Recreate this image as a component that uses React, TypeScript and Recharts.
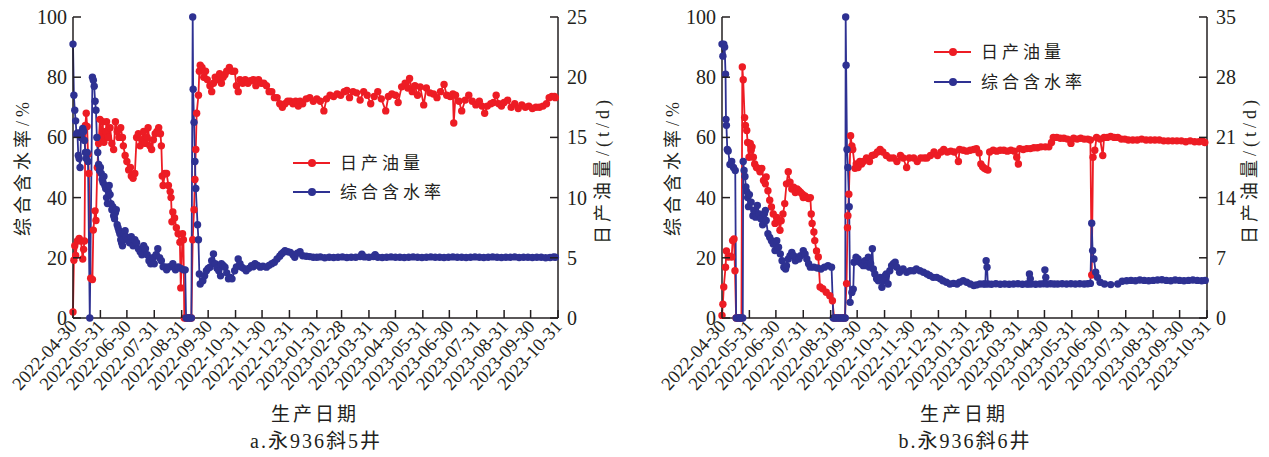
import { ComposedChart, Line, XAxis, YAxis } from "recharts";

// month-end ticks, as day offsets from 2022-04-30
const tickDays = [0, 31, 61, 92, 123, 153, 184, 214, 245, 276, 304, 335, 365, 396, 426, 457, 488, 518, 549];
const tickLabels = [
  "2022-04-30", "2022-05-31", "2022-06-30", "2022-07-31", "2022-08-31", "2022-09-30", "2022-10-31",
  "2022-11-30", "2022-12-31", "2023-01-31", "2023-02-28", "2023-03-31", "2023-04-30", "2023-05-31",
  "2023-06-30", "2023-07-31", "2023-08-31", "2023-09-30", "2023-10-31",
];

// a. 永936斜5井
const waterDaysA = [0,1,2,3,4,5,6,7,8,9,10,11,12,13,14,15,16,17,19,22,23,24,25,26,27,28,29,30,31,32,33,34,35,36,37,38,39,40,41,42,43,44,45,46,47,48,49,50,51,52,53,54,55,56,57,58,59,60,62,64,66,68,70,72,74,76,78,80,82,84,86,88,90,92,94,96,98,100,102,104,106,108,110,113,116,119,122,125,127,128,130,132,134,135.5,136,137,138,139,141,142,143,144,147,149,151,153,155,157,159,161,163,165,167,168,170,172,174,176,178,180,183,185,187,189,191,193,196,199,202,204,206,209,212,215,219,222,225,228,231,234,236,238,240,243,246,249,251,254,257,260,264,268,272,276,280,285,290,295,300,305,310,315,320,325,327,330,335,340,342,345,350,355,360,365,370,375,380,385,390,395,400,405,410,415,420,425,430,435,440,445,450,455,460,465,470,475,480,485,490,495,500,505,510,515,520,525,530,535,540,544,546];
const waterA = [91,74,69,65.5,61,61.5,54,53,50,60,62,63,62,59,55,53,55,52,0,80,79,77,72,69,60,55,51,49,50,48,46,45,47,44,43,40,38,42,44,41,38,36,37,34,33,35,36,31,30,29,28,26,25,24,26,28,29,27,26,25,27,24,26,25,23,22,21,24,23,21,19,18,20,18,21,23,20,19,17,17,16,17,17,18,16,17,16.5,16,16,0,0,0,0,100,76,65,52,43,31,26,14.6,11.3,12.4,14,15.7,16.5,16.9,19,21.3,18,16.5,15.7,14,18,17.5,16.9,15,13,13.5,13,15.7,17,19.6,18,16.9,16.5,15.7,16.5,17.4,17,18,17.5,16.9,17.2,16.9,17.5,18,18.5,19.6,20.5,21.3,21.8,22.4,22,21.8,21,20.2,21.5,22,20.7,20.5,20.4,20.2,20.2,20.3,20,20.2,20.1,20.2,20.3,20.1,20.2,20.2,20.4,21.2,20.3,20.2,20.4,21,20.2,20.1,20.2,20.3,20.2,20.2,20.1,20.2,20.3,20.2,20.1,20.2,20.3,20.2,20.2,20.1,20.2,20.3,20.2,20.2,20.1,20.2,20.3,20.2,20.1,20.2,20.3,20.2,20.1,20.2,20.2,20.3,20.1,20.2,20.2,20.1,20.2,20.2,20,20.1,20.3,20.2];
const oilDaysA = [0,1,2,3,5,7,9,11,12,13,14,15,16,17,18,20,22,23,25,26,27.5,29,30.5,32,33.5,35,37,38,40,42,44,46,48,50,52,54,56,57,59,61,63,65,66,68,70,72,74,76,78,80,82,84,85,87,89,91,93,95,97,99,100,101,102,104,106,108,110,111,112,113,115,117,119,121,122,124,125,126,128,130,132,134,135.5,137,138,139,140,142,143,144,146,148,150,152,155,157,159,161,163,166,168,170,172,174,177,180,183,185,187,189,192,195,198,201,204,207,210,213,216,219,222,225,228,231,234,237,240,243,246,249,252,255,257,260,264,268,272,276,280,284,287,291,295,299,303,307,310,313,317,321,325,329,333,337,341,345,349,354,357,361,365,368,372,376,379,381,384,387,390,393,397,400,404,408,412,416,420,423,427,430,431,433,437,440,444,448,452,456,460,463,466,469,473,476,479,482,485,488,492,496,500,504,508,512,516,520,524,528,532,536,539,542,545,546];
const oilA = [0.5,4.8,6,5.2,6.4,6.6,6.4,4.9,5.7,6.4,16,17,15.9,13.6,12,3.3,3.2,7.3,8.9,8.1,12.5,14.5,16.5,15,16.3,14.6,15.5,16.3,15,15.8,14.5,14,16.3,15.5,15,15.8,15,14.3,13.5,13,12.3,12.5,11.8,11.6,12,15,15.3,14.3,14.8,15.5,14.5,15,15.8,14.3,14,14.8,15.3,15.5,15.8,15.3,14.3,11.8,11,12,12,11,10.5,10,8,8.8,8.3,7.5,7,6.3,2.5,7,6.5,0,0,0,0,0,6.5,9,11.5,14,17,18.5,20.5,21,20.8,20,20.5,19.8,19.3,18.8,19.5,20,19.8,20.3,19.5,20,20.2,20.5,20.8,20.5,20.5,19.3,18.8,19.8,19.5,19.8,19.5,19.7,19.8,19.3,19.8,19.5,19.5,19.3,18.8,18.8,18.3,18.3,17.8,17.5,17.8,18,18,17.8,18,17.6,18,17.8,18.2,18.3,18,18.2,18,17.2,18.2,18.5,18.4,18.6,18.5,18.8,18.9,18.3,18.8,18.7,18.1,18.8,18.5,17.8,18.4,18.8,18.2,17.2,18.4,18.6,18.5,17.9,19.2,19.5,19.1,19.9,18.8,19.3,18.5,19.2,17.7,19.1,18.7,18.6,18.3,18.8,19.4,18.5,18.4,18.6,16.2,18.5,18,17.2,18.1,18.5,18,17.7,18,17.6,17,17.6,17.8,17.9,18.5,17.8,17.6,17.9,18.1,17.5,17.8,17.4,17.7,17.5,17.6,17.4,17.5,17.5,17.6,17.8,18.3,18.4,18.4,18.3];

// b. 永936斜6井
const waterDaysB = [0,1,2,3,4,4.5,5,6,7,9,11,13,15,16,18,20,22,23.5,24,25,26,27,28,29,30,31,33,35,36,38,40,42,44,46,48,49,50,52,54,56,58,60,62,64,66,68,70,72,73,75,77,79,81,83,85,87,89,92,94,96,98,100,104,108,112,116,120,124,126,128,130,132,134,136,138,139.5,140,140.5,141.5,142.5,144,145,147,148.6,149.4,151.7,154,156,158,160,162,164,165.6,167,168.3,170.2,171.3,173,175,177,179,181,183,185,186,188,190,192,194,196,198,201,205,209,213,217,220,224,228,232,235,239,243,247,250,254,258,262,266,269,273,277,281,285,288,292,296,298,299,300,301,305,310,315,320,325,330,335,340,345,347,348,349,350,355,360,364,365.5,366.5,368,372,376,380,385,390,395,400,405,410,414,417,418.5,419.5,421,423,425,428,433,440,448,453,458,463,468,473,478,483,488,493,498,503,508,513,518,523,528,533,538,543,547];
const waterB = [91,87,91,90,81,66,64,56,55.5,51,52,50,49,0,0,0,0,0,52,49,47,43.5,42,40,37,41,38.5,34,35.7,33.5,37.4,34.6,33,31,34.6,35.7,32.4,28,26.8,25.7,24.6,22.4,25.7,23.5,21.3,19,16.9,16.3,17.4,19.6,20.7,21.8,20.7,19,20.2,19.6,20.7,22.4,21.3,19.6,18,16.9,16.9,16.6,16.3,16.9,17.4,16.9,0,0,0,0,0,0,0,0,100,84,56,50,37,5.2,8.5,9.6,18.5,20.2,19.6,18.5,18,17.4,19,17.4,20.2,16.9,18,23,16.3,14.6,13,12.4,13.5,10.2,12.4,14.1,14.6,11.3,15.7,17.4,18,18.5,16.9,15.2,16.3,15.2,15.7,15.7,16.3,15.7,15.2,14.6,14.1,13.5,13.5,13,12.4,11.9,11.3,11.5,11.3,11.9,12.4,11.9,11.3,10.8,11,11.3,11.3,11.3,19,16.9,11.3,11.2,11.4,11.2,11.3,11.2,11.3,11.4,11.2,11.3,11.3,14.6,13,11.3,11.2,11.3,11.4,16,13.5,11.3,11.4,11.3,11.3,11.4,11.3,11.4,11.3,11.4,11.3,11.4,11.5,31.5,22.4,19.6,15.2,13.5,11.9,11.3,11.1,11.3,12.2,12.4,12.5,12.4,12.6,12.5,12.4,12.5,12.6,12.7,12.5,12.4,12.6,12.5,12.4,12.5,12.6,12.5,12.4,12.5];
const oilDaysB = [0,1,2,4,5,7,9,11,12,13.6,14.7,16,18,20,22,23,24,25.6,26.5,28,29,30.6,32,33,34,35.5,37,39,41,43,45,47,49,50,52,54,56,58,60,62,64,65.6,67,69,71,73,75,77,79,81,83,85,87,89,91,92,94,96,98,100,101,102,104,105,107,109,111,114,118,122,125,127,130,133,136,139,141,142,142.5,143.6,145.6,147,148,150.5,152,154,156,158,160,163.6,167,170,173,176,179,182,186,190,194,198,202,205,209,212,217,221,225,229,232,236,240,244,248,251,255,259,263,267.6,269,273,277,281,285,288,291,293,295,297,299,301,303,307,311,315,319,323,327,331,333.6,335.5,337,341,345,349,353,357,361,366,370,373,375,379,383,387,391,395,398,402,406,410,414,417,418.5,420,422,424,428,431,432.5,436,440,444,448,452,456,460,465,470,475,480,485,490,495,500,505,510,515,520,525,530,535,540,544,546.5];
const oilB = [0.3,1.6,3.6,5.9,7.8,7.1,7.2,7.1,9,9.2,5.5,0,0,0,0,29.2,27.7,23.3,22.4,21.8,20.4,18.7,20.3,19.5,19.9,18.7,17.9,17.5,17.4,17,17.4,16,15.6,16.4,14.8,13.7,12.9,12.1,11,11.7,11.3,10.2,11.3,12.1,13.3,15.6,17,15.8,15,15.2,14.6,15,14.8,14.6,14.4,14,14.2,14,13.9,14,12.1,11,10,9,7.8,7.1,3.6,3.4,3,2.6,2,0,0,0,0,0,4,10.5,11.9,14.4,21.2,20,19.6,17.4,17.9,17.5,18.2,17.9,18.2,18.6,18.2,18.9,19,19.3,19.6,19.3,18.9,18.6,18.6,18.2,18.9,18.6,17.5,18.6,18.6,18.2,18.6,18.6,18.6,18.9,19.3,18.9,19.3,19.6,19.3,19.4,19.3,18.2,19.6,19.5,19.4,19.5,19.6,19.7,19.2,17.9,17.6,17.4,17.3,17.2,19.3,19.5,19.4,19.5,19.5,19.4,19.5,19.4,18.7,17.9,19.7,19.6,19.7,19.7,19.8,19.8,19.9,19.9,19.9,20.4,21,21,20.9,20.9,20.8,20.3,20.9,20.8,20.9,20.8,20.8,20.7,5,18.7,19.5,21,20.8,18.9,21,21,21.1,21,21,20.8,20.8,20.7,20.7,20.7,20.8,20.7,20.7,20.7,20.7,20.6,20.6,20.6,20.6,20.6,20.5,20.6,20.5,20.5,20.6,20.4];

const RED = "#ED1C24";
const BLUE = "#2E3192";
const INK = "#231F20";
const FONT = "'Liberation Serif', 'Noto Sans CJK SC', serif";

const PLOT_TOP = 17;
const PLOT_BOTTOM = 318;

const toPoints = (days: number[], vals: number[]) => days.map((d, i) => ({ d, v: vals[i] }));

function XTick({ x, y, payload }: any) {
  const label = tickLabels[tickDays.indexOf(payload.value)];
  const ax = x + 5;
  const ay = y + 9;
  return (
    <g>
      <line x1={x} y1={y} x2={x} y2={y - 8} stroke={INK} strokeWidth={1.5} />
      <text
        x={ax}
        y={ay}
        transform={`rotate(-48 ${ax} ${ay})`}
        textAnchor="end"
        fontSize={18.5}
        fontFamily={FONT}
        fill={INK}
      >
        {label}
      </text>
    </g>
  );
}

function LeftTick({ x, y, payload }: any) {
  return (
    <g>
      <line x1={x} y1={y} x2={x + 8} y2={y} stroke={INK} strokeWidth={1.5} />
      <text x={x - 6} y={y} dy="0.35em" textAnchor="end" fontSize={20} fontFamily={FONT} fill={INK}>
        {payload.value}
      </text>
    </g>
  );
}

function RightTick({ x, y, payload }: any) {
  return (
    <g>
      <line x1={x - 8} y1={y} x2={x} y2={y} stroke={INK} strokeWidth={1.5} />
      <text x={x + 9} y={y} dy="0.35em" textAnchor="start" fontSize={20} fontFamily={FONT} fill={INK}>
        {payload.value}
      </text>
    </g>
  );
}

interface PanelProps {
  left: number;
  width: number;
  rightWidth: number;
  water: { d: number; v: number }[];
  oil: { d: number; v: number }[];
  oilMax: number;
  oilTicks: number[];
}

function Panel({ left, width, rightWidth, water, oil, oilMax, oilTicks }: PanelProps) {
  return (
    <div style={{ position: "absolute", left, top: 0 }}>
      <ComposedChart width={width} height={457} margin={{ top: PLOT_TOP, right: 0, left: 0, bottom: 0 }}>
        <XAxis
          dataKey="d"
          type="number"
          domain={[0, 549]}
          ticks={tickDays}
          interval={0}
          tick={<XTick />}
          tickLine={false}
          tickSize={0}
          tickMargin={0}
          height={457 - PLOT_BOTTOM}
          axisLine={{ stroke: INK, strokeWidth: 1.5 }}
        />
        <YAxis
          yAxisId="water"
          domain={[0, 100]}
          ticks={[0, 20, 40, 60, 80, 100]}
          interval={0}
          width={73}
          tick={<LeftTick />}
          tickLine={false}
          tickSize={0}
          tickMargin={0}
          axisLine={{ stroke: INK, strokeWidth: 1.5 }}
        />
        <YAxis
          yAxisId="oil"
          orientation="right"
          domain={[0, oilMax]}
          ticks={oilTicks}
          interval={0}
          width={rightWidth}
          tick={<RightTick />}
          tickLine={false}
          tickSize={0}
          tickMargin={0}
          axisLine={{ stroke: INK, strokeWidth: 1.5 }}
        />
        <Line
          yAxisId="oil"
          data={oil}
          dataKey="v"
          type="linear"
          stroke={RED}
          strokeWidth={1.8}
          dot={{ r: 3.7, fill: RED, stroke: RED, strokeWidth: 0 }}
          activeDot={false}
          isAnimationActive={false}
        />
        <Line
          yAxisId="water"
          data={water}
          dataKey="v"
          type="linear"
          stroke={BLUE}
          strokeWidth={1.8}
          dot={{ r: 3.7, fill: BLUE, stroke: BLUE, strokeWidth: 0 }}
          activeDot={false}
          isAnimationActive={false}
        />
      </ComposedChart>
    </div>
  );
}

function LegendItem({ x, y, color, text }: { x: number; y: number; color: string; text: string }) {
  return (
    <g>
      <line x1={x} y1={y} x2={x + 37} y2={y} stroke={color} strokeWidth={1.8} />
      <circle cx={x + 19} cy={y} r={4} fill={color} />
      <text x={x + 47} y={y} dy="0.35em" fontSize={17} letterSpacing={4} fontFamily={FONT} fill={INK}>
        {text}
      </text>
    </g>
  );
}

function VTitle({ x, y, text }: { x: number; y: number; text: string }) {
  return (
    <text
      x={x}
      y={y}
      dy="0.35em"
      transform={`rotate(-90 ${x} ${y})`}
      textAnchor="middle"
      fontSize={18}
      letterSpacing={4}
      fontFamily={FONT}
      fill={INK}
    >
      {text}
    </text>
  );
}

function HText({ x, y, text, size, spacing }: { x: number; y: number; text: string; size: number; spacing: number }) {
  return (
    <text x={x} y={y} dy="0.35em" textAnchor="middle" fontSize={size} letterSpacing={spacing} fontFamily={FONT} fill={INK}>
      {text}
    </text>
  );
}

export default function App() {
  return (
    <div style={{ position: "absolute", left: 0, top: 0, width: 1269, height: 457, overflow: "hidden", background: "#fff" }}>
      <Panel
        left={0}
        width={634}
        rightWidth={76}
        water={toPoints(waterDaysA, waterA)}
        oil={toPoints(oilDaysA, oilA)}
        oilMax={25}
        oilTicks={[0, 5, 10, 15, 20, 25]}
      />
      <Panel
        left={649}
        width={620}
        rightWidth={62}
        water={toPoints(waterDaysB, waterB)}
        oil={toPoints(oilDaysB, oilB)}
        oilMax={35}
        oilTicks={[0, 7, 14, 21, 28, 35]}
      />
      <svg width={1269} height={457} style={{ position: "absolute", left: 0, top: 0, pointerEvents: "none" }}>
        <VTitle x={23} y={167} text="综合含水率/%" />
        <VTitle x={603} y={170} text="日产油量/(t/d)" />
        <VTitle x={673} y={167} text="综合含水率/%" />
        <VTitle x={1250} y={170} text="日产油量/(t/d)" />
        <HText x={315} y={414} text="生产日期" size={19} spacing={3} />
        <HText x={316} y={441} text="a.永936斜5井" size={20} spacing={2} />
        <HText x={964} y={414} text="生产日期" size={19} spacing={3} />
        <HText x={965} y={441} text="b.永936斜6井" size={20} spacing={2} />
        <LegendItem x={293} y={163} color={RED} text="日产油量" />
        <LegendItem x={293} y={192} color={BLUE} text="综合含水率" />
        <LegendItem x={934} y={52} color={RED} text="日产油量" />
        <LegendItem x={934} y={82} color={BLUE} text="综合含水率" />
      </svg>
    </div>
  );
}
